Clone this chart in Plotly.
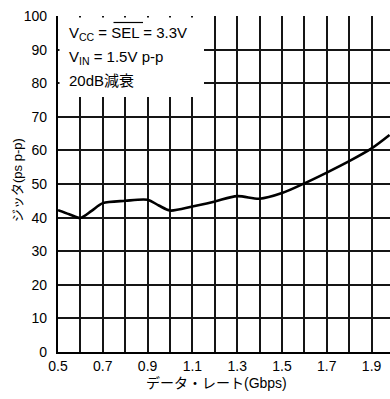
import plotly.graph_objects as go

# Jitter vs. data rate
data_rate_gbps = [0.5, 0.55, 0.6, 0.65, 0.7, 0.8, 0.9, 0.95, 1.0, 1.1, 1.2, 1.3,
                  1.4, 1.5, 1.6, 1.7, 1.8, 1.9, 1.98]
jitter_ps = [42.2, 41.0, 39.9, 42.0, 44.3, 45.0, 45.3, 43.6, 42.1, 43.3, 44.8, 46.4,
             45.6, 47.3, 50.2, 53.4, 56.8, 60.6, 64.6]

x_ticks = [0.5, 0.7, 0.9, 1.1, 1.3, 1.5, 1.7, 1.9]
x_labels = ["0.5", "0.7", "0.9", "1.1", "1.3", "1.5", "1.7", "1.9"]
y_ticks = [0, 10, 20, 30, 40, 50, 60, 70, 80, 90, 100]

conditions = ["V<sub>CC</sub> = SEL = 3.3V", "V<sub>IN</sub> = 1.5V p-p", "20dB減衰"]

FONT = "Liberation Sans, Arial, Noto Sans CJK JP, sans-serif"
GRID = "#151515"

fig = go.Figure()
fig.add_trace(go.Scatter(
    x=data_rate_gbps, y=jitter_ps, mode="lines",
    line=dict(color="black", width=2.6, shape="spline", smoothing=0.8),
    hoverinfo="skip", showlegend=False,
))

W, H = 390, 399
ML, MT, MB = 58, 16, 47
PX_PER_GBPS = 224.0

fig.update_layout(
    width=W, height=H,
    margin=dict(l=ML, r=0, t=MT, b=MB),
    paper_bgcolor="white", plot_bgcolor="white",
    font=dict(family=FONT, size=14, color="black"),
    xaxis=dict(
        range=[0.5, 0.5 + (W - ML) / PX_PER_GBPS],
        tickvals=x_ticks, ticktext=x_labels,
        showgrid=True, gridcolor=GRID, gridwidth=1.6,
        minor=dict(dtick=0.1, tick0=0.5, showgrid=True, gridcolor=GRID,
                   gridwidth=1.6, ticks=""),
        showline=True, linecolor="black", linewidth=2.2,
        ticks="", zeroline=False, tickfont=dict(size=14),
    ),
    yaxis=dict(
        range=[0, 100], tickvals=y_ticks,
        showgrid=True, gridcolor=GRID, gridwidth=1.6,
        showline=True, linecolor="black", linewidth=2.2,
        ticks="", zeroline=False, tickfont=dict(size=14), ticklabelstandoff=6,
    ),
)

plot_w = W - ML
plot_h = H - MT - MB


def px(xp):
    return (xp - ML) / plot_w


def py(yp):
    return (H - MB - yp) / plot_h


# white panel holding the test conditions
fig.add_shape(type="rect", xref="paper", yref="paper",
              x0=px(59.5), x1=px(204), y0=py(97), y1=py(17.5),
              fillcolor="white", line=dict(width=0), layer="above")

line_y = [33, 57, 80]
for txt, yp in zip(conditions, line_y):
    fig.add_annotation(text=txt, xref="paper", yref="paper",
                       x=px(67), y=py(yp),
                       xanchor="left", yanchor="middle", showarrow=False,
                       font=dict(size=15, family=FONT))

# overbar on SEL
fig.add_shape(type="line", xref="paper", yref="paper",
              x0=px(113.5), x1=px(143), y0=py(22.5), y1=py(22.5),
              line=dict(color="black", width=1.2), layer="above")

# axis titles
fig.add_annotation(text="ジッタ(ps p-p)", xref="paper", yref="paper",
                   x=px(17), y=py(180),
                   textangle=-90, showarrow=False,
                   xanchor="center", yanchor="middle", font=dict(size=13, family=FONT))
fig.add_annotation(text="データ・レート(Gbps)", xref="paper", yref="paper",
                   x=px(216), y=py(383),
                   showarrow=False, xanchor="center", yanchor="middle",
                   font=dict(size=14, family=FONT))

fig.write_html("out.html")
